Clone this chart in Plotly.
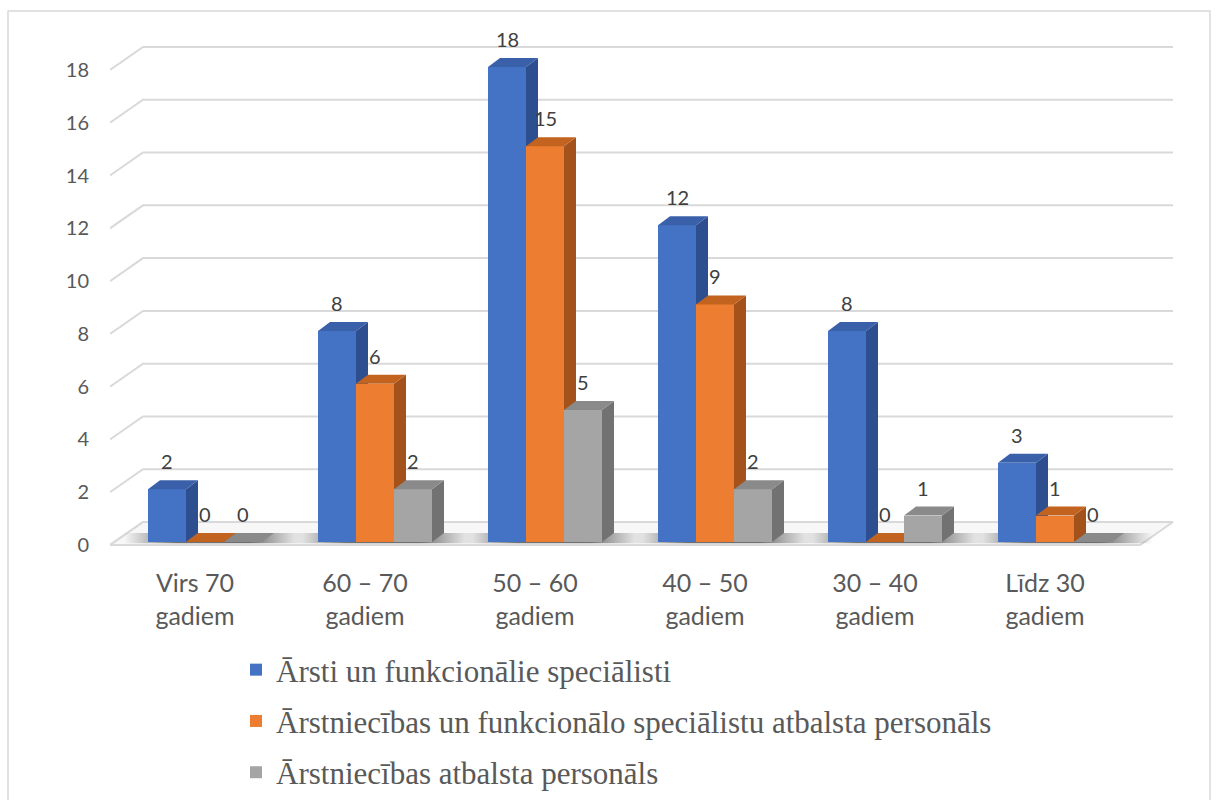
import plotly.graph_objects as go

# ---------------- data ----------------
categories = ["Virs 70<br>gadiem", "60 – 70<br>gadiem", "50 – 60<br>gadiem",
              "40 – 50<br>gadiem", "30 – 40<br>gadiem", "Līdz 30<br>gadiem"]
series_names = ["Ārsti un funkcionālie speciālisti",
                "Ārstniecības un funkcionālo speciālistu atbalsta personāls",
                "Ārstniecības atbalsta personāls"]
arsti = [2, 8, 18, 12, 8, 3]
atbalsts_funk = [0, 6, 15, 9, 0, 1]
atbalsts = [0, 2, 5, 2, 1, 0]
y_ticks = [0, 2, 4, 6, 8, 10, 12, 14, 16, 18]

series_values = [arsti, atbalsts_funk, atbalsts]

# ---------------- styles / geometry ----------------
front_col = ["#4472C4", "#ED7D31", "#A5A5A5"]
side_col = ["#2E4F8F", "#A4521B", "#727272"]
top_col = ["#3A60AA", "#C2631F", "#8A8A8A"]

PX_X = 170.0      # pixels per category unit
PX_Y = 26.39      # pixels per value unit
W = 38 / PX_X     # bar width
BDX = 12 / PX_X   # bar depth (x)
BDY = 9 / PX_Y    # bar depth (y)
LIFT = 3 / PX_Y   # bar front sits slightly behind the floor front edge
XL = (110 - 205) / PX_X
XR = (1140 - 205) / PX_X
DX = 33 / PX_X    # wall depth
DY = 23 / PX_Y
LABEL_SHIFT = 10 / PX_X
GRID = "#D9D9D9"
TXT = "#595959"

L_PX, R_PX, T_PX, B_PX = 110, 1175, 30, 555
PW, PH = R_PX - L_PX, B_PX - T_PX

fig = go.Figure()

# floor
fig.add_trace(go.Scatter(
    x=[XL, XR, XR + DX, XL + DX, XL], y=[0, 0, DY, DY, 0],
    mode="lines", fill="toself", fillcolor="#F7F7F7",
    line=dict(color=GRID, width=2), showlegend=False, hoverinfo="skip", zorder=0))

# back-wall gridlines with side-wall stubs
for v in y_ticks:
    fig.add_trace(go.Scatter(
        x=[XL, XL + DX, XR + DX], y=[v, v + DY, v + DY],
        mode="lines", line=dict(color=GRID, width=2),
        showlegend=False, hoverinfo="skip", zorder=0))

# soft shadows under groups
n = len(categories)
for i in range(n):
    gx0 = i - 1.5 * W - 0.14
    gx1 = i + 1.5 * W + BDX + 0.17
    fig.add_trace(go.Scatter(
        x=[gx0, gx1, gx1, gx0, gx0],
        y=[LIFT - 0.05, LIFT - 0.05, LIFT + BDY, LIFT + BDY, LIFT - 0.05],
        mode="lines", fill="toself", line=dict(width=0),
        fillgradient=dict(type="horizontal",
                          colorscale=[[0, "rgba(0,0,0,0)"], [0.3, "rgba(0,0,0,0.55)"],
                                      [0.7, "rgba(0,0,0,0.55)"], [1, "rgba(0,0,0,0)"]]),
        showlegend=False, hoverinfo="skip", zorder=1))

annotations = []
for j, (name, vals) in enumerate(zip(series_names, series_values)):
    xs = [i + (j - 1) * W for i in range(n)]
    fig.add_trace(go.Bar(
        x=xs, y=vals, base=LIFT, width=W, name=name,
        marker=dict(color=front_col[j], line=dict(width=0)),
        legendgroup=f"s{j}", zorder=2 * j + 2, hoverinfo="skip"))
    for i, v in enumerate(vals):
        x0 = xs[i] - W / 2
        x1 = xs[i] + W / 2
        yb = LIFT
        yt = LIFT + v
        if v > 0:
            fig.add_trace(go.Scatter(
                x=[x1, x1 + BDX, x1 + BDX, x1, x1],
                y=[yb, yb + BDY, yt + BDY, yt, yb],
                mode="lines", fill="toself", fillcolor=side_col[j], line=dict(width=0),
                showlegend=False, hoverinfo="skip", zorder=2 * j + 3))
        fig.add_trace(go.Scatter(
            x=[x0, x1, x1 + BDX, x0 + BDX, x0],
            y=[yt, yt, yt + BDY, yt + BDY, yt],
            mode="lines", fill="toself", fillcolor=top_col[j], line=dict(width=0),
            showlegend=False, hoverinfo="skip", zorder=2 * j + 3))
        annotations.append(dict(
            x=xs[i], y=yt, xref="x", yref="y", text=str(v), showarrow=False,
            yshift=28, font=dict(family="Lato", size=20, color="#404040")))

# chart frame
fig.add_shape(type="rect", xref="paper", yref="paper",
              x0=(8 - L_PX) / PW, x1=(1210 - L_PX) / PW,
              y0=(B_PX - 810) / PH, y1=(B_PX - 11) / PH,
              line=dict(color=GRID, width=1.5), fillcolor="rgba(0,0,0,0)", layer="below")

fig.update_layout(
    width=1217, height=800,
    margin=dict(l=L_PX, r=1217 - R_PX, t=T_PX, b=800 - B_PX, autoexpand=False),
    paper_bgcolor="white", plot_bgcolor="white",
    barmode="overlay", bargap=0,
    annotations=annotations,
    showlegend=True,
    legend=dict(x=(236 - L_PX) / PW, y=(B_PX - 643) / PH,
                xanchor="left", yanchor="top", tracegroupgap=8,
                font=dict(family="Liberation Serif", size=31, color=TXT),
                bgcolor="rgba(0,0,0,0)"),
    xaxis=dict(range=[(L_PX - 205) / PX_X, (R_PX - 205) / PX_X],
               tickvals=[i - LABEL_SHIFT for i in range(n)], ticktext=categories,
               tickangle=0, showgrid=False, zeroline=False, showline=False,
               tickfont=dict(family="Lato", size=25, color=TXT), ticklabelstandoff=11),
    yaxis=dict(range=[-(B_PX - 545) / PX_Y, (545 - T_PX) / PX_Y],
               tickvals=y_ticks, showgrid=False, zeroline=False, showline=False,
               tickfont=dict(family="Lato", size=20, color=TXT), ticklabelstandoff=20),
)

fig.write_html("out.html")
